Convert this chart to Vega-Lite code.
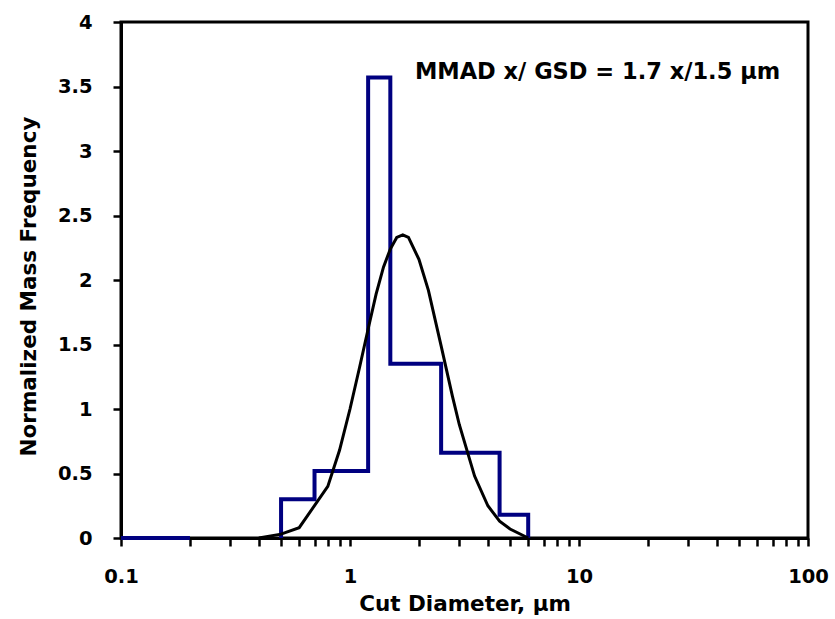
{
  "$schema": "https://vega.github.io/schema/vega-lite/v6.json",
  "width": 687,
  "height": 516,
  "autosize": {"type": "none"},
  "padding": {"left": 121, "top": 22, "right": 27, "bottom": 81},
  "background": "white",
  "config": {
    "view": {"stroke": "black", "strokeWidth": 3},
    "axis": {
      "domainColor": "black", "domainWidth": 3,
      "ticks": true,
      "tickColor": "black", "tickWidth": 2.5, "tickSize": 8,
      "grid": false,
      "labelFlush": false,
      "labelFont": "DejaVu Sans", "labelFontWeight": "bold", "labelFontSize": 19.5, "labelColor": "black",
      "titleFont": "DejaVu Sans", "titleFontWeight": "bold", "titleFontSize": 21.5, "titleColor": "black"
    }
  },
  "datasets": {
    "hist": [
      {"seg": "a", "d": 0.1, "f": 0},
      {"seg": "a", "d": 0.2, "f": 0},
      {"seg": "b", "d": 0.5, "f": 0},
      {"seg": "b", "d": 0.5, "f": 0.3},
      {"seg": "b", "d": 0.7, "f": 0.52},
      {"seg": "b", "d": 1.2, "f": 3.57},
      {"seg": "b", "d": 1.5, "f": 1.35},
      {"seg": "b", "d": 2.5, "f": 0.66},
      {"seg": "b", "d": 4.5, "f": 0.18},
      {"seg": "b", "d": 6.0, "f": 0}
    ],
    "fit": [
      {"d": 0.4, "f": 0.0},
      {"d": 0.5, "f": 0.03},
      {"d": 0.6, "f": 0.08},
      {"d": 0.8, "f": 0.4},
      {"d": 0.9, "f": 0.68},
      {"d": 1.0, "f": 1.0},
      {"d": 1.1, "f": 1.32},
      {"d": 1.2, "f": 1.62},
      {"d": 1.3, "f": 1.89},
      {"d": 1.4, "f": 2.1},
      {"d": 1.5, "f": 2.24},
      {"d": 1.6, "f": 2.33},
      {"d": 1.7, "f": 2.35},
      {"d": 1.8, "f": 2.33},
      {"d": 2.0, "f": 2.16},
      {"d": 2.2, "f": 1.92},
      {"d": 2.5, "f": 1.49},
      {"d": 2.8, "f": 1.1},
      {"d": 3.0, "f": 0.88},
      {"d": 3.5, "f": 0.48},
      {"d": 4.0, "f": 0.25},
      {"d": 4.5, "f": 0.13},
      {"d": 5.0, "f": 0.07},
      {"d": 6.0, "f": 0.0}
    ],
    "note": [{"d": 1.92, "f": 3.61, "t": "MMAD x/ GSD = 1.7 x/1.5 µm"}]
  },
  "layer": [
    {
      "data": {"name": "hist"},
      "mark": {"type": "line", "interpolate": "step-after", "color": "#000080", "strokeWidth": 4},
      "encoding": {
        "x": {
          "field": "d", "type": "quantitative",
          "scale": {"type": "log", "domain": [0.1, 100], "nice": false},
          "axis": {
            "title": "Cut Diameter, µm",
            "values": [0.1,0.2,0.3,0.4,0.5,0.6,0.7,0.8,0.9,1,2,3,4,5,6,7,8,9,10,20,30,40,50,60,70,80,90,100],
            "labelExpr": "(datum.value == 0.1 || datum.value == 1 || datum.value == 10 || datum.value == 100) ? datum.label : ''",
            "format": "~g",
            "ticks": true,
            "labelPadding": 21,
            "titlePadding": 8
          }
        },
        "y": {
          "field": "f", "type": "quantitative",
          "scale": {"domain": [0, 4], "nice": false},
          "axis": {
            "title": "Normalized Mass Frequency",
            "values": [0,0.5,1,1.5,2,2.5,3,3.5,4],
            "format": "~g",
            "ticks": true,
            "labelPadding": 21,
            "titlePadding": 17,
            "titleY": 264
          }
        },
        "detail": {"field": "seg"}
      }
    },
    {
      "data": {"name": "fit"},
      "mark": {"type": "line", "color": "black", "strokeWidth": 3},
      "encoding": {
        "x": {"field": "d", "type": "quantitative"},
        "y": {"field": "f", "type": "quantitative"}
      }
    },
    {
      "data": {"name": "note"},
      "mark": {"type": "text", "align": "left", "baseline": "middle", "font": "DejaVu Sans", "fontSize": 22.5, "fontWeight": "bold", "color": "black"},
      "encoding": {
        "x": {"field": "d", "type": "quantitative"},
        "y": {"field": "f", "type": "quantitative"},
        "text": {"field": "t"}
      }
    }
  ]
}
